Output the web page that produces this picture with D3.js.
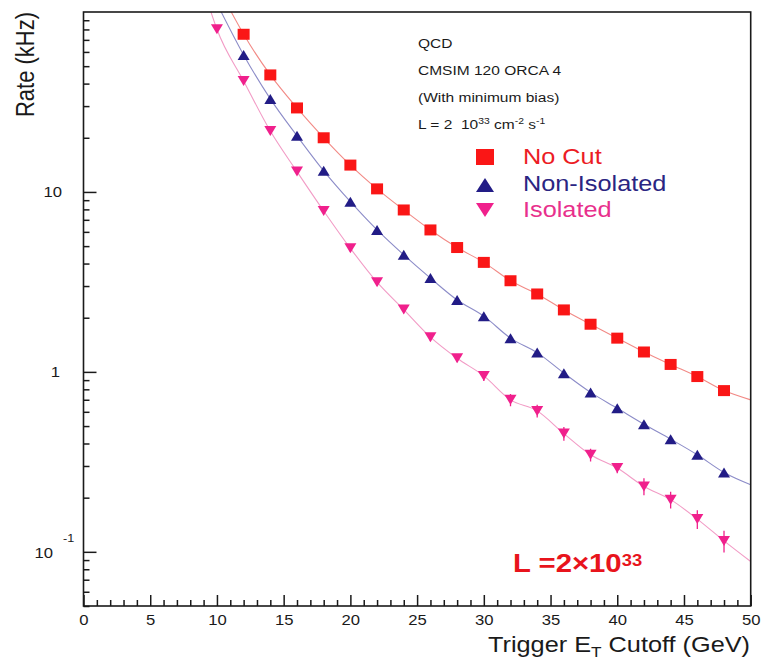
<!doctype html>
<html lang="en">
<head>
<meta charset="utf-8">
<title>QCD rate vs trigger cutoff</title>
<script src="https://d3js.org/d3.v7.min.js"></script>
<style>
  body { margin: 0; background: #fff; }
  svg { display: block; font-family: "Liberation Sans", Arial, Helvetica, sans-serif; }
</style>
</head>
<body>
<svg id="chart" width="764" height="659"></svg>
<script>
// ---- data ----
var cutoffs = [12, 14, 16, 18, 20, 22, 24, 26, 28, 30, 32, 34, 36, 38, 40, 42, 44, 46, 48];
var noCut = [75.2, 44.7, 29.3, 20.0, 14.1, 10.4, 7.94, 6.15, 4.91, 4.06, 3.21, 2.71, 2.21, 1.84, 1.54, 1.29, 1.10, 0.942, 0.787];
var nonIsolated = [57.7, 32.9, 20.5, 13.1, 8.83, 6.15, 4.47, 3.32, 2.51, 2.04, 1.54, 1.28, 0.984, 0.769, 0.628, 0.512, 0.423, 0.346, 0.276];
var isoCutoffs = [10, 12, 14, 16, 18, 20, 22, 24, 26, 28, 30, 32, 34, 36, 38, 40, 42, 44, 46, 48];
var isolated = [80.2, 41.4, 21.8, 12.97, 7.84, 4.86, 3.15, 2.22, 1.56, 1.19, 0.95, 0.699, 0.607, 0.454, 0.346, 0.292, 0.231, 0.195, 0.152, 0.115];
var isolatedErr = [2, 1.2, 0.7, 0.45, 0.3, 0.2, 0.14, 0.1, 0.08, 0.06, 0.06, 0.055, 0.05, 0.04, 0.028, 0.019, 0.025, 0.021, 0.018, 0.016];
// where each fitted curve leaves the frame (top edge, right edge)
var noCutEnds = [[11.07, 100], [50, 0.699]];
var nonIsolatedEnds = [[10.32, 100], [50, 0.236]];
var isolatedEnds = [[9.55, 100], [50, 0.0883]];
var xTickLabels = [0, 5, 10, 15, 20, 25, 30, 35, 40, 45, 50];
var yTickLabels = [0.1, 1, 10];

// ---- layout ----
var svg = d3.select("#chart");
var padL = 83.5, padR = 750.7, padT = 12, padB = 606;
var sx = 1.15; // the original picture is stretched sideways

var x = d3.scaleLinear().domain([0, 50]).range([padL, padR]);
var y = d3.scaleLog().domain([0.05, 100]).range([padB, padT]);

var red = "#fa1616", navy = "#221c86", pink = "#f0208c";
var ink = "#1a1a1a";

svg.append("defs").append("clipPath").attr("id", "plotclip")
  .append("rect").attr("x", padL).attr("y", padT)
  .attr("width", padR - padL).attr("height", padB - padT);

// axes: ticks point inward
var xMajor = d3.axisBottom(x).tickValues(xTickLabels).tickSize(-11).tickPadding(9)
  .tickFormat(d3.format("d"));
var xMinor = d3.axisBottom(x).tickValues(d3.range(0, 51).filter(function(d) { return d % 5; }))
  .tickSize(-6).tickFormat("");
var yMajor = d3.axisLeft(y).tickValues(yTickLabels).tickSize(-13).tickFormat("");
var yMinor = d3.axisLeft(y).tickValues(y.ticks().filter(function(d) {
    return yTickLabels.indexOf(d) < 0 && d < 100; }))
  .tickSize(-6).tickFormat("");

function styleAxis(g) {
  g.select(".domain").remove();
  g.selectAll("line").attr("stroke", ink).attr("stroke-width", 1.5);
}

svg.append("g").attr("transform", "translate(0," + padB + ")").call(xMinor).call(styleAxis);
var gx = svg.append("g").attr("transform", "translate(0," + padB + ")").call(xMajor).call(styleAxis);
gx.selectAll("text").attr("font-size", 14.5).attr("fill", ink)
  .attr("font-family", "Liberation Sans, Arial, sans-serif")
  .attr("transform", "scale(" + sx + ",1)");
svg.append("g").attr("transform", "translate(" + padL + ",0)").call(yMinor).call(styleAxis);
svg.append("g").attr("transform", "translate(" + padL + ",0)").call(yMajor).call(styleAxis);

// y tick labels
function stretched(px, py) {
  return svg.append("g").attr("transform", "translate(" + px + "," + py + ") scale(" + sx + ",1)");
}
stretched(62, y(10) + 5).append("text").attr("text-anchor", "end").attr("font-size", 14.5)
  .attr("fill", ink).text("10");
stretched(60, y(1) + 5).append("text").attr("text-anchor", "end").attr("font-size", 14.5)
  .attr("fill", ink).text("1");
stretched(53, y(0.1) + 6).append("text").attr("text-anchor", "end").attr("font-size", 14.5)
  .attr("fill", ink).text("10");
stretched(63, y(0.1) - 10).append("text").attr("font-size", 11)
  .attr("fill", ink).text("-1");

// axis titles
var xt = stretched(750, 652).append("text").attr("text-anchor", "end").attr("font-size", 22)
  .attr("fill", ink);
xt.append("tspan").text("Trigger E");
xt.append("tspan").attr("font-size", 15).attr("dy", 5).text("T");
xt.append("tspan").attr("dy", -5).text(" Cutoff (GeV)");

svg.append("g").attr("transform", "translate(34,12) rotate(-90) scale(1," + sx + ")")
  .append("text").attr("text-anchor", "end").attr("font-size", 22).attr("fill", ink)
  .text("Rate (kHz)");

// fitted curves
var line = d3.line().x(function(d) { return x(d[0]); }).y(function(d) { return y(d[1]); })
  .curve(d3.curveMonotoneX);
function curvePoints(xs, ys, ends) {
  return [ends[0]].concat(xs.map(function(v, i) { return [v, ys[i]]; }), [ends[1]]);
}
var curves = svg.append("g").attr("clip-path", "url(#plotclip)");
curves.append("path").attr("d", line(curvePoints(cutoffs, noCut, noCutEnds)))
  .attr("fill", "none").attr("stroke", "#f28a86").attr("stroke-width", 1.1);
curves.append("path").attr("d", line(curvePoints(cutoffs, nonIsolated, nonIsolatedEnds)))
  .attr("fill", "none").attr("stroke", "#8c8cc8").attr("stroke-width", 1.1);
curves.append("path").attr("d", line(curvePoints(isoCutoffs, isolated, isolatedEnds)))
  .attr("fill", "none").attr("stroke", "#f29cc6").attr("stroke-width", 1.1);

// error bars on isolated points
curves.selectAll(".err").data(isoCutoffs).enter().append("line")
  .attr("x1", function(d) { return x(d); }).attr("x2", function(d) { return x(d); })
  .attr("y1", function(d, i) { return y(isolated[i] + isolatedErr[i]); })
  .attr("y2", function(d, i) { return y(isolated[i] - isolatedErr[i]); })
  .attr("stroke", pink).attr("stroke-width", 1.3);

// marker shapes (w, h in px), centred on the point
function square(w, h) { return "M" + (-w / 2) + "," + (-h / 2) + "h" + w + "v" + h + "h" + (-w) + "Z"; }
function triUp(w, h) { return "M0," + (-h / 2) + "L" + (w / 2) + "," + (h / 2) + "L" + (-w / 2) + "," + (h / 2) + "Z"; }
function triDown(w, h) { return "M0," + (h / 2) + "L" + (w / 2) + "," + (-h / 2) + "L" + (-w / 2) + "," + (-h / 2) + "Z"; }

function markers(xs, ys, shape, color) {
  svg.append("g").selectAll("path").data(xs).enter().append("path")
    .attr("transform", function(d, i) { return "translate(" + x(d) + "," + y(ys[i]) + ")"; })
    .attr("d", shape).attr("fill", color);
}
markers(cutoffs, noCut, square(12, 11), red);
markers(cutoffs, nonIsolated, triUp(12, 10), navy);
markers(isoCutoffs, isolated, triDown(12, 10), pink);

// info text
var info = ["QCD", "CMSIM 120 ORCA 4", "(With minimum bias)"];
info.forEach(function(t, i) {
  stretched(418, 48 + i * 27).append("text").attr("font-size", 13.5).attr("fill", ink).text(t);
});
var lum = stretched(418, 129).append("text").attr("font-size", 13.5).attr("fill", ink);
lum.append("tspan").text("L = 2\u00a0\u00a010");
lum.append("tspan").attr("font-size", 9).attr("dy", -5).text("33");
lum.append("tspan").attr("dy", 5).text("\u00a0cm");
lum.append("tspan").attr("font-size", 9).attr("dy", -5).text("-2");
lum.append("tspan").attr("dy", 5).text("\u00a0s");
lum.append("tspan").attr("font-size", 9).attr("dy", -5).text("-1");

// legend
var legendNames = ["No Cut", "Non-Isolated", "Isolated"];
var legendColors = [red, navy, pink];
var legendText = ["#ec1c24", "#2a2582", "#e8308c"];
var legendShapes = [square(18, 16), triUp(18, 14), triDown(18, 14)];
var legendMarkY = [157, 185, 210];
var legendTextY = [164, 191, 217];
legendNames.forEach(function(name, i) {
  svg.append("path").attr("transform", "translate(485," + legendMarkY[i] + ")")
    .attr("d", legendShapes[i]).attr("fill", legendColors[i]);
  stretched(523, legendTextY[i]).append("text").attr("font-size", 22)
    .attr("fill", legendText[i]).text(name);
});

// luminosity stamp
var stamp = stretched(513, 572).append("text").attr("font-size", 25.5).attr("font-weight", "bold")
  .attr("fill", "#e8141c");
stamp.append("tspan").text("L =2\u00d710");
stamp.append("tspan").attr("font-size", 16).attr("dy", -6).text("33");

// frame
svg.append("rect").attr("x", padL).attr("y", padT).attr("width", padR - padL).attr("height", padB - padT)
  .attr("fill", "none").attr("stroke", ink).attr("stroke-width", 1.6);
</script>
</body>
</html>
